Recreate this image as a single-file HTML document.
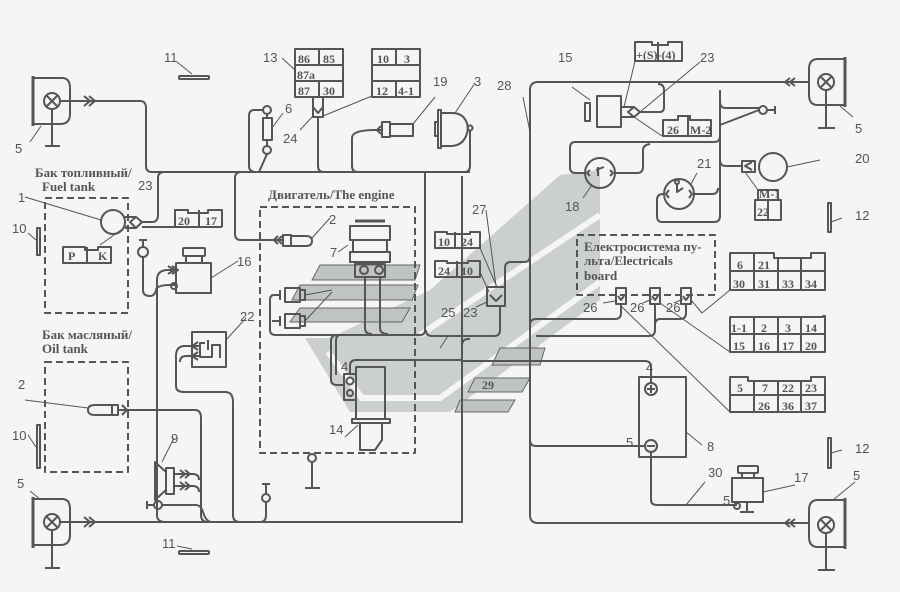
<!DOCTYPE html>
<html><head><meta charset="utf-8"><style>
html,body{margin:0;padding:0;background:#f5f5f5;}
svg{display:block}
text{font-family:"Liberation Sans",sans-serif;fill:#555;font-size:13px}
.s{font-family:"Liberation Serif","DejaVu Serif",serif;font-weight:bold;font-size:13px}
.t{font-family:"Liberation Serif","DejaVu Serif",serif;font-weight:bold;font-size:12px}
</style></head><body>
<svg width="900" height="592" viewBox="0 0 900 592" xmlns="http://www.w3.org/2000/svg">
<rect width="900" height="592" fill="#f5f5f5"/>
<!-- watermark -->
<g fill="#cbcfcf">
<polygon points="305,338 350,412 450,412 600,300 600,170 560,175 430,290 330,338"/>
<polygon points="465,335 520,300 540,330 470,350"/>
</g>
<g fill="none" stroke="#f5f5f5" stroke-width="6">
<polyline points="328,352 362,398 440,398 600,282"/>
<polyline points="420,335 600,215"/>
</g>
<g fill="#bfc3c3" stroke="#666" stroke-width="1">
<polygon points="300,285 418,285 412,300 292,300"/>
<polygon points="300,308 410,308 402,322 290,322"/>
<polygon points="320,265 420,265 415,280 312,280"/>
<polygon points="500,348 545,348 540,365 492,365"/>
<polygon points="475,378 530,378 522,392 468,392"/>
<polygon points="460,400 515,400 508,412 455,412"/>
</g>
<g fill="none" stroke="#555" stroke-width="2" stroke-linejoin="round">
<!-- left top lamp -->
<path d="M33,78 H62 Q70,78 70,88 V114 Q70,124 60,124 H33"/>
<line x1="33" y1="76" x2="33" y2="126" stroke-width="3"/>
<circle cx="52" cy="101" r="8"/><path d="M46,95 L58,107 M58,95 L46,107"/>
<path d="M52,109 V146 M45,146 H60"/>
<path d="M60,101 H140 Q146,101 146,108 V166 Q146,172 152,172 H470"/>
<path d="M84,96 L90,101 L84,106 M89,96 L95,101 L89,106"/>
<line x1="41" y1="126" x2="30" y2="142" stroke-width="1"/>
<!-- 11 bars -->
<rect x="179" y="76" width="30" height="3" rx="1"/>
<rect x="179" y="551" width="30" height="3" rx="1"/>
<line x1="177" y1="62" x2="192" y2="74" stroke-width="1"/>
<line x1="177" y1="546" x2="192" y2="549" stroke-width="1"/>
<!-- 13 table -->
<rect x="295" y="49" width="48" height="48"/><path d="M319,49 V65 M319,81 V97 M295,65 H343 M295,81 H343"/>
<path d="M282,58 L295,70" stroke-width="1"/>
<rect x="313" y="97" width="10" height="20"/><path d="M313,107 L318,113 L323,107"/>
<path d="M318,117 V166 Q318,172 324,172"/>
<path d="M323,116 L372,96" stroke-width="1"/><path d="M314,115 L300,130" stroke-width="1"/>
<rect x="372" y="49" width="48" height="48"/><path d="M396,49 V65 M396,81 V97 M372,81 H420 M372,65 H420"/>
<!-- 6 fuse -->
<rect x="263" y="118" width="9" height="22"/><circle cx="267" cy="110" r="4"/><circle cx="267" cy="150" r="4"/>
<path d="M267,114 V118 M267,140 V146 M263,110 H254 Q249,110 249,116 V166 Q249,172 256,172 M267,154 L259,172"/>
<path d="M272,128 L283,113" stroke-width="1"/>
<!-- 19 -->
<path d="M382,130 L375,130 Q352,130 352,138 V166 Q352,172 358,172"/>
<path d="M381,126 L377,130 L381,134"/>
<rect x="382" y="122" width="8" height="15"/><rect x="390" y="124" width="23" height="12"/>
<path d="M413,124 L435,97" stroke-width="1"/>
<!-- 3 -->
<rect x="438" y="110" width="3" height="38"/><rect x="435" y="122" width="3" height="14"/>
<path d="M441,113 H452 Q466,113 468,128 Q466,145 452,146 H441"/>
<circle cx="470" cy="128" r="2.5"/>
<path d="M470,131 V166 Q470,172 464,172"/>
<path d="M455,113 L475,83" stroke-width="1"/>
<path d="M425,172 V178"/>
<!-- fuel tank -->
<rect x="45" y="198" width="83" height="115" stroke-dasharray="7,4"/>
<circle cx="113" cy="222" r="12"/>
<path d="M125,217 H136 L142,222 L136,228 H125 M136,217 L130,222 L136,228"/>
<path d="M142,222 H152 Q158,222 158,215 V178 Q158,172 164,172"/>
<path d="M142,227 H222"/>
<path d="M175,227 V210 H188 V213 H208 V210 H222 V227 M199,210 V227"/>
<path d="M63,263 V247 H85 V250 H98 V247 H111 V263 Z M87,247 V263"/>
<path d="M100,245 L128,225 M25,197 L101,220" stroke-width="1"/>
<rect x="37" y="228" width="3" height="27"/><path d="M28,233 L36,240" stroke-width="1"/>
<rect x="37" y="425" width="3" height="43"/><path d="M28,435 L36,447" stroke-width="1"/>
<!-- 16 -->
<circle cx="143" cy="252" r="5"/><path d="M143,240 V247 M139,240 H147 M143,257 V290 Q143,296 150,296 Q155,296 156,290 Q157,285 170,285 H176"/>
<rect x="176" y="263" width="35" height="30"/><rect x="183" y="248" width="22" height="8" rx="1"/><rect x="186" y="256" width="16" height="7"/>
<path d="M176,270 H168 Q157,270 157,280 V515 Q157,522 165,522"/>
<path d="M168,266 L174,270 L168,274 M172,266 L178,270 L172,274"/>
<circle cx="174" cy="286" r="3"/>
<path d="M211,278 L238,261" stroke-width="1"/>
<!-- 22 -->
<rect x="192" y="332" width="34" height="35"/>
<path d="M208,340 V350 M205,343 H200 V357 H212 V345 H220 V358"/>
<path d="M199,346 H185 Q176,346 176,356 V386 Q176,392 184,392 H225 Q233,392 233,402 V515 Q233,522 240,522"/>
<path d="M199,356 H186 Q180,356 180,362"/>
<path d="M198,342 L192,346 L198,350 M198,352 L192,356 L198,360"/>
<path d="M226,340 L246,318" stroke-width="1"/>
<!-- oil tank -->
<rect x="45" y="362" width="83" height="110" stroke-dasharray="7,4"/>
<path d="M95,405 H112 V415 H95 Q88,415 88,410 Q88,405 95,405 Z M112,405 H118 V415 H112 M118,410 H195 Q201,410 201,418 V515 Q201,522 208,522"/>
<path d="M122,405 L127,410 L122,415"/>
<path d="M25,400 L88,408" stroke-width="1"/>
<!-- 9 horn -->
<path d="M155,462 L166,472 V490 L155,500 Z"/><rect x="166" y="468" width="8" height="26"/>
<path d="M174,474 H193 Q199,474 199,480 M174,486 H193 Q199,486 199,492"/>
<path d="M180,470 L185,474 L180,478 M185,470 L190,474 L185,478 M180,482 L185,486 L180,490 M185,482 L190,486 L185,490"/>
<path d="M162,462 L174,438" stroke-width="1"/>
<circle cx="158" cy="505" r="4"/><path d="M147,505 H154 M147,501 V509 M162,505 H196 Q201,505 203,512 Q206,522 212,522"/>
<!-- bottom left lamp -->
<path d="M33,499 H62 Q70,499 70,509 V535 Q70,545 60,545 H33"/>
<line x1="33" y1="497" x2="33" y2="548" stroke-width="3"/>
<circle cx="52" cy="522" r="8"/><path d="M46,516 L58,528 M58,516 L46,528"/>
<path d="M52,530 V568 M45,568 H60"/>
<path d="M60,522 H462 Q462,522 462,516 V176"/>
<path d="M84,517 L90,522 L84,527 M89,517 L95,522 L89,527"/>
<path d="M30,491 L41,500" stroke-width="1"/>
<circle cx="266" cy="498" r="4"/><path d="M266,484 V494 M262,484 H270 M266,502 V515 Q266,522 260,522"/>
<!-- engine outline wires -->
<path d="M235,178 Q235,172 241,172 M235,178 V234 Q235,240 241,240 H282"/>
<path d="M278,236 L274,240 L278,244 M282,236 L278,240 L282,244"/>
<rect x="283" y="235" width="8" height="11"/><path d="M291,236 H306 Q312,236 312,241 Q312,246 306,246 H291"/>
<path d="M312,238 L330,218" stroke-width="1"/>
<rect x="260" y="207" width="155" height="246" stroke-dasharray="7,4"/>
<!-- 7 -->
<rect x="350" y="226" width="40" height="14"/><rect x="353" y="240" width="34" height="12"/><rect x="350" y="252" width="40" height="10"/>
<path d="M355,221 H385" stroke-width="3"/>
<rect x="355" y="264" width="30" height="13"/><circle cx="364" cy="270" r="4"/><circle cx="379" cy="270" r="4"/>
<path d="M365,277 V328 Q365,334 372,334 M380,277 V328 Q380,334 388,334"/>
<path d="M348,245 L338,252" stroke-width="1"/>
<!-- spark sensors -->
<path d="M285,288 H300 V302 H285 Z M300,290 H305 V300 H300 M285,314 H300 V328 H285 Z M300,316 H305 V326 H300"/>
<path d="M280,290 V300 M280,316 V326"/>
<path d="M280,295 H274 Q270,295 270,300 V330 Q270,335 276,335 H420 Q425,335 425,330 V178 M280,321 H272"/>
<path d="M305,295 L332,290 M305,321 L332,292" stroke-width="1"/>
<!-- 14 -->
<path d="M345,335 H337 Q331,335 331,341 V380 Q331,385 337,385 H344"/>
<path d="M340,335 Q336,335 336,341 V375"/>
<rect x="344" y="374" width="12" height="26"/><circle cx="350" cy="381" r="3.5"/><circle cx="350" cy="393" r="3"/>
<rect x="356" y="367" width="29" height="52"/><rect x="352" y="419" width="38" height="4"/>
<path d="M360,423 V450 H375 L382,440 V423"/>
<path d="M350,374 V366 Q350,360 356,360 H462"/>
<path d="M358,425 L345,437" stroke-width="1"/>
<circle cx="312" cy="458" r="4"/><path d="M312,462 V488 M305,488 H320"/>
<!-- center connectors 27/23 -->
<path d="M435,248 V232 H447 V234 H470 V232 H480 V248 Z M455,232 V248"/>
<path d="M435,277 V261 H447 V263 H468 V261 H480 V277 Z M457,261 V277"/>
<rect x="487" y="287" width="18" height="19"/><path d="M490,295 L496,301 L502,295"/>
<path d="M480,248 L497,287 M480,272 L489,292 M486,210 L496,286" stroke-width="1"/>
<path d="M487,302 L476,307" stroke-width="1"/>
<path d="M500,306 V330 Q500,336 494,336 H432 Q426,336 426,330"/>
<path d="M505,287 V268 Q505,262 511,262 H524 Q530,262 530,256"/>
<path d="M448,336 L440,348" stroke-width="1"/>
<path d="M462,346 Q462,339 468,339 H470"/>
<!-- right main bus -->
<path d="M530,90 Q530,82 538,82 H790"/>
<path d="M530,90 V515 Q530,523 538,523 H790"/>
<path d="M523,97 L530,132" stroke-width="1"/>
<path d="M790,78 L785,82 L790,86 M795,78 L790,82 L795,86 M790,519 L785,523 L790,527 M795,519 L790,523 L795,527"/>
<path d="M790,82 H810 M790,523 H810"/>
<!-- right lamps -->
<path d="M845,59 H818 Q809,59 809,69 V95 Q809,105 818,105 H845"/>
<line x1="845" y1="57" x2="845" y2="107" stroke-width="3"/>
<circle cx="826" cy="82" r="8"/><path d="M820,76 L832,88 M832,76 L820,88 M826,90 V128 M818,128 H835"/>
<path d="M840,106 L853,117" stroke-width="1"/>
<path d="M845,500 H818 Q809,500 809,510 V537 Q809,547 818,547 H845"/>
<line x1="845" y1="498" x2="845" y2="549" stroke-width="3"/>
<circle cx="826" cy="525" r="8"/><path d="M820,519 L832,531 M832,519 L820,531 M826,533 V570 M818,570 H835"/>
<path d="M833,500 L855,482" stroke-width="1"/>
<!-- 15 -->
<rect x="585" y="103" width="5" height="18"/><rect x="597" y="96" width="24" height="31"/>
<path d="M621,107 H634 L640,112 L634,117 H621 M634,107 L628,112 L634,117"/>
<path d="M640,112 H660 Q664,112 664,107 V90 Q664,84 658,84"/>
<path d="M634,117 L662,136 M624,107 L635,61 M640,112 L700,62 M590,100 L572,87" stroke-width="1"/>
<path d="M635,61 V42 H652 V45 H668 V42 H682 V61 Z M658,42 V61"/>
<path d="M663,136 V120 H678 V116 H690 V120 H711 V136 Z M688,116 V136"/>
<!-- inner loop -->
<path d="M720,90 V216 Q720,222 714,222 H662 Q657,222 657,216 V200 Q657,194 663,194 H665 M693,194 H712 Q718,194 718,188"/>
<path d="M720,136 Q720,142 714,142 H575 Q570,142 570,148 V168 Q570,173 576,173 H586 M614,173 H637 Q643,173 643,167 V150 Q643,145 650,144"/>
<circle cx="600" cy="173" r="15"/><path d="M590,170 L587,173 L590,176 M610,170 L613,173 L610,176 M598,167 V176 M596,170 L604,167"/>
<circle cx="679" cy="194" r="15"/><path d="M669,190 L666,194 L669,198 M689,190 L692,194 L689,198 M677,184 V192 L683,188"/><circle cx="677" cy="182" r="2"/>
<path d="M691,184 L697,173 M592,185 L583,198" stroke-width="1"/>
<path d="M720,102 Q720,108 726,108 H759 M720,125 L759,110"/>
<circle cx="763" cy="110" r="4"/><path d="M767,110 H775 M775,106 V114"/>
<path d="M720,160 Q720,166 726,166 H742"/>
<rect x="742" y="161" width="13" height="11"/><path d="M752,162 L745,166 L752,170"/>
<circle cx="773" cy="167" r="14"/><path d="M787,167 L820,160" stroke-width="1"/>
<path d="M745,172 L758,190" stroke-width="1"/>
<path d="M758,200 V190 H778 V200"/>
<rect x="755" y="200" width="26" height="20"/><path d="M768,200 V220"/>
<rect x="828" y="203" width="3" height="29"/><path d="M831,222 L842,218" stroke-width="1"/>
<rect x="828" y="438" width="3" height="30"/><path d="M831,453 L842,450" stroke-width="1"/>
<!-- electricals board -->
<rect x="577" y="235" width="138" height="60" stroke-dasharray="7,4"/>
<rect x="616" y="288" width="10" height="16"/><rect x="650" y="288" width="10" height="16"/><rect x="681" y="288" width="10" height="16"/>
<path d="M618,296 L621,300 L624,296 M652,296 L655,300 L658,296 M683,296 L686,300 L689,296"/>
<path d="M621,304 V313 Q621,319 615,319 H536 Q530,319 530,325"/>
<path d="M655,304 V330 Q655,336 649,336 H536"/>
<path d="M686,304 V313 Q686,319 680,319 H660 Q655,319 655,325"/>
<path d="M603,303 L615,301 M643,303 L652,299 M674,303 L683,299" stroke-width="1"/>
<path d="M691,300 L702,313 L730,290 M660,303 L730,352 M621,306 L730,412" stroke-width="1"/>
<path d="M730,290 V253 H774 V258 H811 V253 H825 V290 Z M730,271 H825 M754,253 V290 M778,258 V290 M801,258 V290"/>
<path d="M730,352 V317 H823 V316 H825 V352 Z M730,334 H825 M754,317 V352 M778,317 V352 M801,317 V352"/>
<path d="M730,412 V377 H748 V381 H811 V377 H825 V412 Z M730,395 H825 M754,381 V412 M778,381 V412 M801,381 V412"/>
<!-- battery -->
<rect x="639" y="377" width="47" height="80"/>
<circle cx="651" cy="389" r="6"/><path d="M647,389 H655 M651,385 V393"/>
<circle cx="651" cy="446" r="6"/><path d="M647,446 H655"/>
<path d="M651,383 V367 Q651,361 645,361 H462"/>
<path d="M645,446 H536 Q530,446 530,440"/>
<path d="M651,452 V500 Q651,505 657,505 H737"/>
<path d="M686,432 L702,445 M686,505 L705,482" stroke-width="1"/>
<!-- 17 -->
<rect x="732" y="478" width="31" height="24"/><rect x="738" y="466" width="20" height="7" rx="1"/><rect x="742" y="473" width="12" height="5"/>
<circle cx="737" cy="506" r="3"/><path d="M747,502 V512 M740,512 H754"/>
<path d="M763,492 L795,485" stroke-width="1"/>
</g>
<!-- labels -->
<text x="15" y="153">5</text><text x="164" y="62">11</text><text x="263" y="62">13</text>
<text x="285" y="113">6</text><text x="283" y="143">24</text><text x="433" y="86">19</text><text x="474" y="86">3</text>
<text x="497" y="90">28</text><text x="558" y="62">15</text><text x="700" y="62">23</text>
<text x="855" y="133">5</text><text x="855" y="163">20</text><text x="697" y="168">21</text><text x="565" y="211">18</text>
<text x="855" y="220">12</text><text x="855" y="453">12</text><text x="472" y="214">27</text>
<text x="441" y="317">25</text><text x="463" y="317">23</text>
<text x="583" y="312">26</text><text x="630" y="312">26</text><text x="666" y="312">26</text>
<text x="646" y="372" font-size="11">4</text><text x="626" y="447" font-size="11">5</text><text x="707" y="451">8</text>
<text x="708" y="477">30</text><text x="723" y="505" font-size="11">5</text><text x="794" y="482">17</text><text x="853" y="480">5</text>
<text x="18" y="202">1</text><text x="138" y="190">23</text><text x="12" y="233">10</text><text x="12" y="440">10</text>
<text x="237" y="266">16</text><text x="240" y="321">22</text><text x="18" y="389">2</text><text x="171" y="443">9</text>
<text x="17" y="488">5</text><text x="162" y="548">11</text><text x="329" y="434">14</text>
<text x="329" y="224">2</text><text x="330" y="257">7</text><text x="341" y="371" font-size="11">4</text>
<text class="s" x="35" y="177">Бак топливный/</text><text class="s" x="42" y="191">Fuel tank</text>
<text class="s" x="42" y="339">Бак масляный/</text><text class="s" x="42" y="353">Oil tank</text>
<text class="s" x="268" y="199">Двигатель/The engine</text>
<text class="s" x="584" y="251">Електросистема пу-</text><text class="s" x="584" y="265">льта/Electricals</text><text class="s" x="584" y="280">board</text>
<g class="t">
<text class="t" x="298" y="63">86</text><text class="t" x="323" y="63">85</text><text class="t" x="297" y="79">87a</text><text class="t" x="298" y="95">87</text><text class="t" x="323" y="95">30</text>
<text class="t" x="377" y="63">10</text><text class="t" x="404" y="63">3</text><text class="t" x="376" y="95">12</text><text class="t" x="398" y="95">4-1</text>
<text class="t" x="178" y="225">20</text><text class="t" x="205" y="225">17</text>
<text class="t" x="68" y="260">P</text><text class="t" x="98" y="260">K</text>
<text class="t" x="438" y="246">10</text><text class="t" x="461" y="246">24</text><text class="t" x="438" y="275">24</text><text class="t" x="461" y="275">10</text>
<text class="t" x="636" y="59">+(S)-(4)</text>
<text class="t" x="667" y="134">26</text><text class="t" x="690" y="134">M-2</text>
<text class="t" x="759" y="198">M-1</text><text class="t" x="757" y="216">22</text>
<text class="t" x="737" y="269">6</text><text class="t" x="758" y="269">21</text>
<text class="t" x="733" y="288">30</text><text class="t" x="758" y="288">31</text><text class="t" x="782" y="288">33</text><text class="t" x="805" y="288">34</text>
<text class="t" x="731" y="332">1-1</text><text class="t" x="761" y="332">2</text><text class="t" x="785" y="332">3</text><text class="t" x="805" y="332">14</text>
<text class="t" x="733" y="350">15</text><text class="t" x="758" y="350">16</text><text class="t" x="782" y="350">17</text><text class="t" x="805" y="350">20</text>
<text class="t" x="737" y="392">5</text><text class="t" x="762" y="392">7</text><text class="t" x="782" y="392">22</text><text class="t" x="805" y="392">23</text>
<text class="t" x="758" y="410">26</text><text class="t" x="782" y="410">36</text><text class="t" x="805" y="410">37</text>
<text class="t" x="482" y="389">29</text>
</g>
</svg>
</body></html>
